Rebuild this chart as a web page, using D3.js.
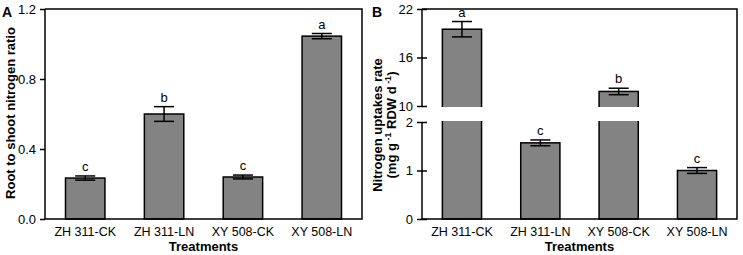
<!DOCTYPE html>
<html>
<head>
<meta charset="utf-8">
<script src="https://cdn.jsdelivr.net/npm/d3@7"></script>
<style>
  body { margin: 0; background: #fff; }
  text { font-family: "Liberation Sans", Arial, sans-serif; }
</style>
</head>
<body>
<div id="chart"></div>
<script>
// data
const treatments = ["ZH 311-CK", "ZH 311-LN", "XY 508-CK", "XY 508-LN"];
const ratioVals = [0.234, 0.60, 0.24, 1.045];
const ratioErr = [0.012, 0.042, 0.011, 0.015];
const ratioLetters = ["c", "b", "c", "a"];
const ratioTicks = [0.0, 0.4, 0.8, 1.2];

const uptakeVals = [19.5, 1.57, 11.8, 1.0];
const uptakeErr = [0.95, 0.06, 0.4, 0.06];
const uptakeLetters = ["a", "c", "b", "c"];
const uptakeTicks = [0, 1, 2, 10, 16, 22];

const width = 743, height = 255;
const plotTop = 9, plotBottom = 219;

let svg = d3.select("#chart")
    .append("svg")
    .attr("width", width)
    .attr("height", height);

// draws one panel; y scale may be piecewise
function panel(opts) {
    const g = svg.append("g");
    const x = d3.scaleBand()
        .domain(treatments)
        .range([opts.left, opts.right])
        .paddingInner(0.5)
        .paddingOuter(0.26);
    const y = opts.y;

    // bars
    g.selectAll("rect.bar")
        .data(opts.vals)
        .join("rect")
        .attr("class", "bar")
        .attr("x", (d, i) => x(treatments[i]))
        .attr("width", x.bandwidth())
        .attr("y", d => y(d))
        .attr("height", d => y(0) - y(d))
        .attr("fill", "#838383")
        .attr("stroke", "#000")
        .attr("stroke-width", 1.5);

    // axis break gap
    if (opts.gap) {
        g.append("rect")
            .attr("x", opts.left - 8)
            .attr("width", opts.right - opts.left + 7)
            .attr("y", y(opts.gap[1]) + 1)
            .attr("height", y(opts.gap[0]) - y(opts.gap[1]) - 2)
            .attr("fill", "#fff");
    }

    // error bars
    const eb = g.selectAll("g.err")
        .data(opts.vals)
        .join("g")
        .attr("class", "err")
        .attr("stroke", "#000")
        .attr("stroke-width", 1.5);
    const cx = i => x(treatments[i]) + x.bandwidth() / 2;
    eb.append("line")
        .attr("x1", (d, i) => cx(i)).attr("x2", (d, i) => cx(i))
        .attr("y1", (d, i) => y(d - opts.err[i]))
        .attr("y2", (d, i) => y(d + opts.err[i]));
    eb.append("line")
        .attr("x1", (d, i) => cx(i) - 10).attr("x2", (d, i) => cx(i) + 10)
        .attr("y1", (d, i) => y(d + opts.err[i]))
        .attr("y2", (d, i) => y(d + opts.err[i]));
    eb.append("line")
        .attr("x1", (d, i) => cx(i) - 10).attr("x2", (d, i) => cx(i) + 10)
        .attr("y1", (d, i) => y(d - opts.err[i]))
        .attr("y2", (d, i) => y(d - opts.err[i]));

    // significance letters
    g.selectAll("text.letter")
        .data(opts.vals)
        .join("text")
        .attr("class", "letter")
        .text((d, i) => opts.letters[i])
        .attr("x", (d, i) => cx(i))
        .attr("y", (d, i) => y(d + opts.err[i]) - 5)
        .attr("text-anchor", "middle")
        .attr("font-size", 13);

    // frame: top, right, bottom
    g.append("path")
        .attr("d", `M${opts.left},${plotTop}H${opts.right}V${plotBottom}H${opts.left}`)
        .attr("fill", "none")
        .attr("stroke", "#000")
        .attr("stroke-width", 1.5);

    // left axis
    const yAxis = d3.axisLeft(y)
        .tickValues(opts.ticks)
        .tickFormat(opts.fmt)
        .tickSizeInner(5)
        .tickSizeOuter(0)
        .tickPadding(4);
    const ax = g.append("g")
        .attr("transform", `translate(${opts.left},0)`)
        .call(yAxis);
    ax.select(".domain").remove();
    ax.selectAll(".tick line").attr("stroke-width", 1.5);
    if (opts.crossTicks) ax.selectAll(".tick line").attr("x2", -5).attr("x1", 5);
    ax.selectAll(".tick text")
        .attr("font-size", 13)
        .attr("font-family", "Liberation Sans, Arial, sans-serif")
        .attr("fill", "#000");

    // left axis line (broken if needed)
    const segs = opts.gap ? [[0, opts.gap[0]], [opts.gap[1], opts.ticks[opts.ticks.length - 1]]]
                          : [[opts.ticks[0], opts.ticks[opts.ticks.length - 1]]];
    g.selectAll("line.yline")
        .data(segs)
        .join("line")
        .attr("class", "yline")
        .attr("x1", opts.left).attr("x2", opts.left)
        .attr("y1", d => y(d[0])).attr("y2", d => y(d[1]))
        .attr("stroke", "#000")
        .attr("stroke-width", 1.5);

    // x tick labels
    g.selectAll("text.cat")
        .data(treatments)
        .join("text")
        .attr("class", "cat")
        .text(d => d)
        .attr("x", d => x(d) + x.bandwidth() / 2)
        .attr("y", 236)
        .attr("text-anchor", "middle")
        .attr("font-size", 12.5);

    g.append("text")
        .text("Treatments")
        .attr("x", (opts.left + opts.right) / 2)
        .attr("y", 251)
        .attr("text-anchor", "middle")
        .attr("font-size", 13)
        .attr("font-weight", "bold");

    g.append("text")
        .text(opts.tag)
        .attr("x", opts.tagX)
        .attr("y", 17)
        .attr("font-size", 14)
        .attr("font-weight", "bold");
    return g;
}

const yA = d3.scaleLinear().domain([0, 1.2]).range([plotBottom, plotTop]);
const gA = panel({
    left: 45, right: 362, y: yA, vals: ratioVals, err: ratioErr,
    letters: ratioLetters, ticks: ratioTicks, fmt: d3.format(".1f"),
    tag: "A", tagX: 2
});
gA.append("text")
    .text("Root to shoot nitrogen ratio")
    .attr("transform", "translate(15,113) rotate(-90)")
    .attr("text-anchor", "middle")
    .attr("font-size", 13)
    .attr("font-weight", "bold");

// broken y axis: 0-2 below, 10-22 above
const yB = d3.scaleLinear().domain([0, 2, 10, 22]).range([plotBottom, 122, 106, plotTop]);
const gB = panel({
    left: 422, right: 737, y: yB, vals: uptakeVals, err: uptakeErr,
    letters: uptakeLetters, ticks: uptakeTicks, fmt: d3.format("d"),
    crossTicks: true, gap: [2, 10], tag: "B", tagX: 372
});
const lab = gB.append("text")
    .attr("transform", "translate(382,125) rotate(-90)")
    .attr("text-anchor", "middle")
    .attr("font-size", 13)
    .attr("font-weight", "bold");
lab.append("tspan").attr("x", 0).attr("dy", 0).text("Nitrogen uptakes rate");
const l2 = lab.append("tspan").attr("x", 0).attr("dy", 14);
l2.append("tspan").text("(mg g");
l2.append("tspan").attr("font-size", 9).attr("dy", -5).text(" -1");
l2.append("tspan").attr("dy", 5).text(" RDW d");
l2.append("tspan").attr("font-size", 9).attr("dy", -5).text(" -1");
l2.append("tspan").attr("dy", 5).text(")");
</script>
</body>
</html>
